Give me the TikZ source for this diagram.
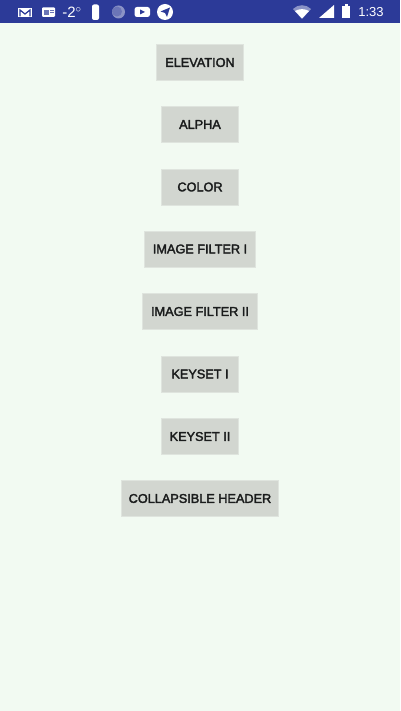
\documentclass[tikz,border=0pt]{standalone}
\usepackage{fontspec}
\setmainfont{Liberation Sans}
\newfontfamily\btnfont[FakeBold=2.5]{Liberation Sans}
\definecolor{screenbg}{HTML}{F2FAF2}
\definecolor{barblue}{HTML}{2C3A98}
\definecolor{btnfill}{HTML}{D2D6D0}
\definecolor{btnedge}{HTML}{DFE4DE}
\definecolor{btntext}{HTML}{1A1C1C}
\tikzset{
  btn/.style={fill=btnfill, draw=btnedge, line width=0.6pt, text=btntext, inner sep=0pt, minimum height=36pt, font=\fontsize{12.7}{15}\btnfont},
  bartext/.style={text=white, inner sep=0pt, font=\fontsize{#1}{#1}\selectfont},
  icon/.style={fill=white, draw=none}
}
\begin{document}
\begin{tikzpicture}[x=1pt, y=-1pt]
\useasboundingbox (0,0) rectangle (400,711);
\fill[screenbg] (0,0) rectangle (400,711);
\fill[barblue] (0,0) rectangle (400,23);

% status bar, left
\fill[icon] (18,8) rectangle (32,17);
\draw[barblue, line width=1.2pt] (20,16.5) -- (20,10) -- (25,14) -- (30,10) -- (30,16.5);
\fill[icon, rounded corners=1pt] (42,7.5) rectangle (55,17);
\fill[barblue!70] (44,10) rectangle (48.5,15);
\fill[barblue!70] (49.5,10) rectangle (53.5,11);
\fill[barblue!70] (49.5,12.5) rectangle (53.5,13.5);
\node[bartext=15] (temp) at (72,12) {-2$^\circ$};
\fill[icon, rounded corners=2pt] (92,4.5) rectangle (99,20);
\fill[barblue!55!white] (118.5,12) circle (6.5);
\fill[barblue!70!white] (117,11.5) circle (5);
\fill[icon, rounded corners=2.5pt] (134.5,7) rectangle (150,17);
\fill[barblue] (140,9.5) -- (145,12) -- (140,14.5) -- cycle;
\fill[white] (165,12) circle (8);
\fill[barblue] (170,7.5) -- (167,17) -- (165,13) -- (160.5,11.5) -- cycle;

% status bar, right
\fill[barblue!55!white] (293,9) .. controls (298,4) and (306,4) .. (311,9) -- (302,19) -- cycle;
\fill[white] (295,11) .. controls (299,8.5) and (305,8.5) .. (309,11) -- (302,18.5) -- cycle;
\fill[white] (319,18) -- (334,5) -- (334,18) -- cycle;
\fill[icon] (342,6.5) rectangle (350,18);
\fill[icon] (344.5,4.5) rectangle (347.5,6.5);
\node[bartext=13] (clock) at (371,12.5) {1:33};

% buttons
\node[btn, minimum width=87.5pt] (elevation) at (200,62.5) {ELEVATION};
\node[btn, minimum width=77.5pt] (alpha) at (200,124.5) {ALPHA};
\node[btn, minimum width=77.5pt] (color) at (200,187) {COLOR};
\node[btn, minimum width=111.5pt] (filterone) at (200,249) {IMAGE FILTER I};
\node[btn, minimum width=115.5pt] (filtertwo) at (200,311.5) {IMAGE FILTER II};
\node[btn, minimum width=77.5pt] (keysetone) at (200,374) {KEYSET I};
\node[btn, minimum width=77.5pt] (keysettwo) at (200,436.5) {KEYSET II};
\node[btn, minimum width=157.5pt] (header) at (200,498.5) {COLLAPSIBLE HEADER};
\end{tikzpicture}
\end{document}
